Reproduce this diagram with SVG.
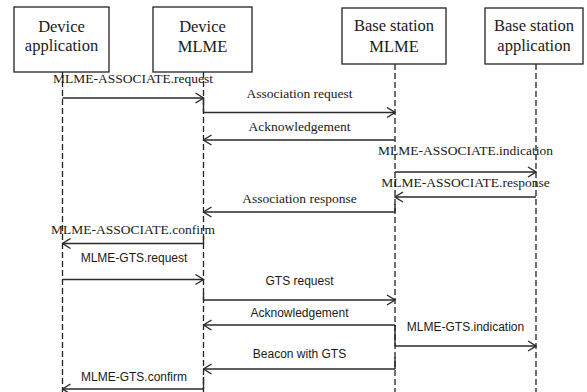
<svg xmlns="http://www.w3.org/2000/svg" width="587" height="392" viewBox="0 0 587 392">
  <style>
    .box { fill: #fff; stroke: #222; stroke-width: 1.3; }
    .title { font-family: "Liberation Serif", serif; font-size: 16.5px; fill: #1a1a1a; text-anchor: middle; }
    .life { stroke: #222; stroke-width: 1.3; stroke-dasharray: 6 3; fill: none; }
    .msg { stroke: #2a2a2a; stroke-width: 1.4; fill: none; marker-end: url(#open); }
    .tick { stroke: #2a2a2a; stroke-width: 1.4; fill: none; }
    .lbl { font-family: "Liberation Serif", serif; font-size: 13.5px; fill: #1a1a1a; text-anchor: middle; }
    .lbl2 { font-family: "Liberation Sans", sans-serif; font-size: 12px; fill: #1a1a1a; text-anchor: middle; }
  </style>
  <defs>
    <marker id="open" viewBox="0 0 10 12" refX="9" refY="6" markerWidth="10" markerHeight="12" markerUnits="userSpaceOnUse" orient="auto">
      <path d="M1 1 L9 6 L1 11" fill="none" stroke="#2a2a2a" stroke-width="1.4"/>
    </marker>
  </defs>

  <!-- participants -->
  <g id="device-application">
    <rect class="box" x="14" y="7" width="95" height="65"/>
    <text class="title" x="61.5" y="32">Device</text>
    <text class="title" x="61.5" y="50.5">application</text>
  </g>
  <g id="device-mlme">
    <rect class="box" x="153" y="7" width="99" height="65"/>
    <text class="title" x="202.5" y="32">Device</text>
    <text class="title" x="202.5" y="51.5">MLME</text>
  </g>
  <g id="base-station-mlme">
    <rect class="box" x="342" y="8" width="104" height="56"/>
    <text class="title" x="394" y="31">Base station</text>
    <text class="title" x="394" y="52">MLME</text>
  </g>
  <g id="base-station-application">
    <rect class="box" x="485" y="8" width="98" height="56"/>
    <text class="title" x="534" y="31">Base station</text>
    <text class="title" x="534" y="51">application</text>
  </g>

  <!-- lifelines -->
  <g id="lifelines">
    <line class="life" x1="62.5" y1="72" x2="62.5" y2="392"/>
    <line class="life" x1="203.5" y1="72" x2="203.5" y2="392"/>
    <line class="life" x1="395" y1="64" x2="395" y2="392"/>
    <line class="life" x1="536" y1="64" x2="536" y2="392"/>
  </g>

  <!-- messages -->
  <g id="connectors">
    <line class="msg" x1="62.5" y1="98" x2="203.5" y2="98"/>
    <polyline class="tick" points="203.5,98 203.5,112.5"/>
    <line class="msg" x1="203.5" y1="112.5" x2="395" y2="112.5"/>
    <line class="msg" x1="395" y1="140" x2="203.5" y2="140"/>
    <line class="msg" x1="395" y1="172" x2="536" y2="172"/>
    <line class="msg" x1="536" y1="197" x2="395" y2="197"/>
    <polyline class="tick" points="395,204 395,212"/>
    <line class="msg" x1="395" y1="212" x2="203.5" y2="212"/>
    <polyline class="tick" points="203.5,236 203.5,243.5"/>
    <line class="msg" x1="203.5" y1="243.5" x2="62.5" y2="243.5"/>
    <line class="msg" x1="62.5" y1="279.5" x2="203.5" y2="279.5"/>
    <polyline class="tick" points="203.5,293 203.5,300"/>
    <line class="msg" x1="203.5" y1="300" x2="395" y2="300"/>
    <line class="msg" x1="395" y1="325" x2="203.5" y2="325"/>
    <polyline class="tick" points="395,325 395,346"/>
    <line class="msg" x1="395" y1="346" x2="536" y2="346"/>
    <polyline class="tick" points="395,357 395,369"/>
    <line class="msg" x1="395" y1="369" x2="203.5" y2="369"/>
    <polyline class="tick" points="203.5,377 203.5,389"/>
    <line class="msg" x1="203.5" y1="389" x2="62.5" y2="389"/>
  </g>

  <!-- message labels -->
  <g id="labels">
    <text class="lbl" x="133" y="83">MLME-ASSOCIATE.request</text>
    <text class="lbl" x="299.5" y="98">Association request</text>
    <text class="lbl" x="299.5" y="131">Acknowledgement</text>
    <text class="lbl" x="465.5" y="155">MLME-ASSOCIATE.indication</text>
    <text class="lbl" x="465.5" y="187">MLME-ASSOCIATE.response</text>
    <text class="lbl" x="299.5" y="203">Association response</text>
    <text class="lbl" x="133" y="234">MLME-ASSOCIATE.confirm</text>
    <text class="lbl2" x="134" y="262">MLME-GTS.request</text>
    <text class="lbl2" x="299.5" y="285">GTS request</text>
    <text class="lbl2" x="299.5" y="317">Acknowledgement</text>
    <text class="lbl2" x="465.5" y="331">MLME-GTS.indication</text>
    <text class="lbl2" x="299.5" y="358">Beacon with GTS</text>
    <text class="lbl2" x="134" y="381">MLME-GTS.confirm</text>
  </g>
</svg>
